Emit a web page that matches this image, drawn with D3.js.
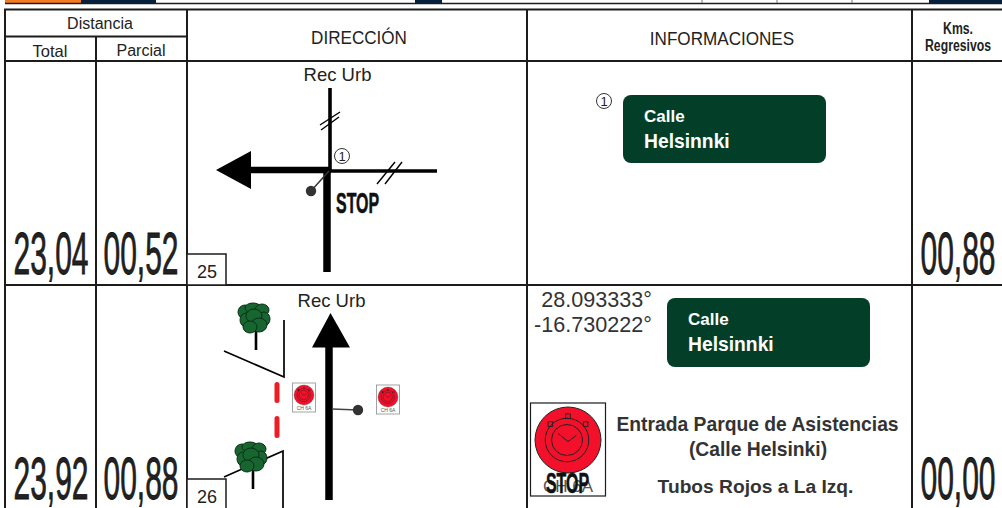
<!DOCTYPE html>
<html>
<head>
<meta charset="utf-8">
<script src="https://cdn.jsdelivr.net/npm/d3@7"></script>
<style>
  html, body { margin: 0; padding: 0; background: #fff; overflow: hidden; }
  text { font-family: "Liberation Sans", Arial, sans-serif; }
</style>
</head>
<body>
<div id="chart"></div>
<script>
// table content
const columns = ["Total", "Parcial", "DIRECCIÓN", "INFORMACIONES", "Kms."];
const rowIds = ["25", "26"];
const totals = ["23,04", "23,92"];
const parciales = ["00,52", "00,88"];
const regresivos = ["00,88", "00,00"];
const signLines = ["Calle", "Helsinnki"];
const coords = ["28.093333°", "-16.730222°"];
const notes = ["Entrada Parque de Asistencias", "(Calle Helsinki)", "Tubos Rojos a La Izq."];
const destino = "Rec Urb";

const width = 1002;
const height = 508;

const svg = d3.select("#chart")
  .append("svg")
  .attr("width", width)
  .attr("height", height)
  .style("display", "block");

// layout
const colX = d3.scaleOrdinal().domain(columns).range([5, 96, 187, 527, 912]);
const colMid = d3.scaleOrdinal().domain(columns).range([50, 141, 358, 722, 958]);
const rowBottom = d3.scaleOrdinal().domain(rowIds).range([285, 520]);
const numberBase = d3.scaleOrdinal().domain(rowIds).range([274, 499]);

const ink = "#1c1c1c";
const green = "#033f28";
const red = "#f2102a";
const line = d3.line();

function label(g, str, x, y, size, opts = {}) {
  return g.append("text")
    .attr("transform", `translate(${x},${y}) scale(${opts.sx || 1},1)`)
    .attr("text-anchor", opts.anchor || "middle")
    .attr("font-size", size)
    .attr("font-weight", opts.bold ? "bold" : "normal")
    .attr("fill", opts.fill || "#222")
    .attr("stroke", opts.heavy ? (opts.fill || "#111") : "none")
    .attr("stroke-width", opts.heavy || 0)
    .text(str);
}

function stroke(g, pts, w, color = "#000") {
  return g.append("path")
    .attr("d", line(pts))
    .attr("fill", "none")
    .attr("stroke", color)
    .attr("stroke-width", w);
}

// strip left over from the page above
const strip = svg.append("g");
strip.selectAll("rect")
  .data([[5, 76, "#f47b20"], [81, 75, "#04213f"], [415, 27, "#04213f"], [929, 73, "#04213f"]])
  .join("rect")
  .attr("x", d => d[0]).attr("y", 0)
  .attr("width", d => d[1]).attr("height", 3)
  .attr("fill", d => d[2]);
stroke(strip, [[5, 3.5], [width, 3.5]], 1.5, ink);
[702, 777, 852].forEach(x => stroke(strip, [[x, 0], [x, 3]], 1, "#777"));

// grid
const grid = svg.append("g");
const tableTop = 9.5;
const headBottom = 61;
columns.forEach(c => {
  const top = c === "Parcial" ? 36 : tableTop;
  stroke(grid, [[colX(c), top], [colX(c), height]], 2, ink);
});
stroke(grid, [[4, tableTop], [width, tableTop]], 2, ink);
stroke(grid, [[5, 36.5], [colX("DIRECCIÓN"), 36.5]], 2, ink);
stroke(grid, [[4, headBottom], [width, headBottom]], 2, ink);
rowIds.forEach(id => {
  stroke(grid, [[4, rowBottom(id)], [width, rowBottom(id)]], 2, ink);
});

// headers
label(svg, "Distancia", 100, 29, 16);
label(svg, "Total", colMid("Total"), 57, 16.5);
label(svg, "Parcial", colMid("Parcial"), 56, 16);
label(svg, "DIRECCIÓN", colMid("DIRECCIÓN") + 1, 44, 19, { sx: 0.9 });
label(svg, "INFORMACIONES", colMid("INFORMACIONES"), 45, 19, { sx: 0.9 });
label(svg, "Kms.", colMid("Kms."), 34, 17, { bold: true, sx: 0.72 });
label(svg, "Regresivos", colMid("Kms."), 51, 17, { bold: true, sx: 0.72 });

// big distance numbers
rowIds.forEach((id, i) => {
  const opts = { sx: 0.5, heavy: 0.8 };
  label(svg, totals[i], colMid("Total") + 1, numberBase(id), 60, opts);
  label(svg, parciales[i], colMid("Parcial"), numberBase(id), 60, opts);
  label(svg, regresivos[i], colMid("Kms."), numberBase(id), 60, opts);
});

// numbered boxes
function idBox(id, top) {
  svg.append("rect")
    .attr("x", 187).attr("y", top)
    .attr("width", 39).attr("height", rowBottom(id) === 285 ? 285 - top : 40)
    .attr("fill", "#fff").attr("stroke", ink).attr("stroke-width", 1.5);
  label(svg, id, 207, top + 24, 18);
}

function circledOne(g, x, y) {
  g.append("circle").attr("cx", x).attr("cy", y).attr("r", 7.5)
    .attr("fill", "#fff").attr("stroke", "#333").attr("stroke-width", 1);
  label(g, "1", x, y + 5, 13);
}

function greenSign(g, x, y, w, h) {
  g.append("rect")
    .attr("x", x).attr("y", y).attr("width", w).attr("height", h)
    .attr("rx", 8).attr("fill", green);
  label(g, signLines[0], x + 21, y + 27, 17, { anchor: "start", bold: true, fill: "#fff" });
  label(g, signLines[1], x + 21, y + 53, 19.3, { anchor: "start", bold: true, fill: "#fff" });
}

function clock(g, cx, cy, r, box, caption) {
  const big = r > 20;
  g.append("rect")
    .attr("x", box[0]).attr("y", box[1]).attr("width", box[2]).attr("height", box[3])
    .attr("fill", "#fff").attr("stroke", box[4]).attr("stroke-width", box[5]);
  g.append("circle").attr("cx", cx).attr("cy", cy).attr("r", r)
    .attr("fill", red).attr("stroke", "#222").attr("stroke-width", big ? 1 : 0.3);
  [0.66, 0.47].forEach(k => {
    g.append("circle").attr("cx", cx - r * 0.03).attr("cy", cy).attr("r", r * k)
      .attr("fill", "none").attr("stroke", "#222").attr("stroke-width", big ? 1 : 0.4);
  });
  [-48, 0, 48].forEach(a => {
    const t = (a - 90) * Math.PI / 180;
    g.append("rect")
      .attr("x", cx + Math.cos(t) * r * 0.72 - r * 0.07)
      .attr("y", cy + Math.sin(t) * r * 0.72 - r * 0.07)
      .attr("width", r * 0.14).attr("height", r * 0.14)
      .attr("fill", "none").attr("stroke", "#222").attr("stroke-width", big ? 0.9 : 0.3);
  });
  stroke(g, [[cx - r * 0.3, cy - r * 0.2], [cx, cy + r * 0.05], [cx + r * 0.25, cy - r * 0.14]], big ? 1 : 0.4, "#222");
  label(g, caption, cx, box[1] + box[3] - (big ? 4 : 2), big ? 17 : 5, { fill: "#555" });
}

function tree(g, cx, cy, trunkEnd, tx) {
  stroke(g, [[tx, cy + 6], [tx, trunkEnd]], 2.6, "#000");
  const blobs = [[-9, -6, 7, 7], [-1, -10, 8, 5], [8, -8, 7, 6], [10, 1, 6, 7], [-8, 2, 6, 7], [0, -2, 8, 7], [5, 7, 8, 7], [-4, 9, 7, 6]];
  g.selectAll(null)
    .data(blobs)
    .join("ellipse")
    .attr("cx", d => cx + d[0]).attr("cy", d => cy + d[1])
    .attr("rx", d => d[2]).attr("ry", d => d[3])
    .attr("fill", "#17662f").attr("stroke", "#0a2f18").attr("stroke-width", 1);
}

// row 25 direction drawing
const d25 = svg.append("g");
label(d25, destino, 337.5, 81, 18.5);
stroke(d25, [[330, 88], [330, 172]], 3.6);
stroke(d25, [[330, 171], [437, 171]], 3.6);
stroke(d25, [[251, 170], [331, 170]], 6.5);
stroke(d25, [[327, 168], [327, 272]], 7.5);
d25.append("path").attr("d", line([[216, 170], [251, 151], [251, 189]]) + "Z").attr("fill", "#000");
stroke(d25, [[320, 125], [340, 112]], 1.4);
stroke(d25, [[321, 130], [339, 117]], 1.4);
stroke(d25, [[377, 184], [395, 162]], 1.4);
stroke(d25, [[385, 184], [402, 162]], 1.4);
stroke(d25, [[311, 191], [329, 171]], 1.5, "#333");
d25.append("circle").attr("cx", 311).attr("cy", 191).attr("r", 5.2).attr("fill", "#333");
circledOne(d25, 342, 156);
label(d25, "STOP", 336, 213, 29, { anchor: "start", bold: true, sx: 0.55, fill: "#111", heavy: 0.6 });
idBox("25", 254);

// row 25 info
const i25 = svg.append("g");
circledOne(i25, 604, 101);
greenSign(i25, 623, 95, 203, 68);

// row 26 direction drawing
const d26 = svg.append("g");
label(d26, destino, 331.5, 307, 18.5);
stroke(d26, [[284, 320], [284, 377], [224, 351]], 1.7);
stroke(d26, [[283, 508], [283, 451], [224, 477]], 1.7);
tree(d26, 254, 318, 350, 256);
tree(d26, 251, 457, 489, 253);
[[382, 403], [416, 438]].forEach(([y0, y1]) => {
  d26.append("rect")
    .attr("x", 274.5).attr("y", y0).attr("width", 5).attr("height", y1 - y0)
    .attr("rx", 2.5).attr("fill", "#ee1c25");
});
clock(d26, 304, 395, 10, [292.5, 383, 23, 29, "#999", 0.9], "CH 6A");
clock(d26, 388, 397, 10, [376.5, 385, 23, 29, "#999", 0.9], "CH 6A");
stroke(d26, [[329, 500], [329, 345]], 7.5);
d26.append("path").attr("d", line([[330.5, 313], [312, 347.5], [350, 347.5]]) + "Z").attr("fill", "#000");
stroke(d26, [[332, 409], [358, 410]], 1.5, "#444");
d26.append("circle").attr("cx", 358).attr("cy", 410).attr("r", 5.2).attr("fill", "#333");
idBox("26", 479);

// row 26 info
const i26 = svg.append("g");
label(i26, coords[0], 652, 307, 21.6, { anchor: "end", fill: "#333" });
label(i26, coords[1], 652, 332, 21.6, { anchor: "end", fill: "#333" });
greenSign(i26, 667, 298, 203, 69);
clock(i26, 568, 440, 33, [530.5, 403, 75, 93, ink, 1.2], "CH 6A");
label(i26, "STOP", 567.5, 493, 29, { bold: true, sx: 0.55, fill: "#111", heavy: 0.6 });
label(i26, notes[0], 757.5, 431, 19.3, { bold: true, fill: "#333" });
label(i26, notes[1], 758, 456, 19.3, { bold: true, fill: "#333" });
label(i26, notes[2], 755.5, 493, 19.2, { bold: true, fill: "#333" });
</script>
</body>
</html>
